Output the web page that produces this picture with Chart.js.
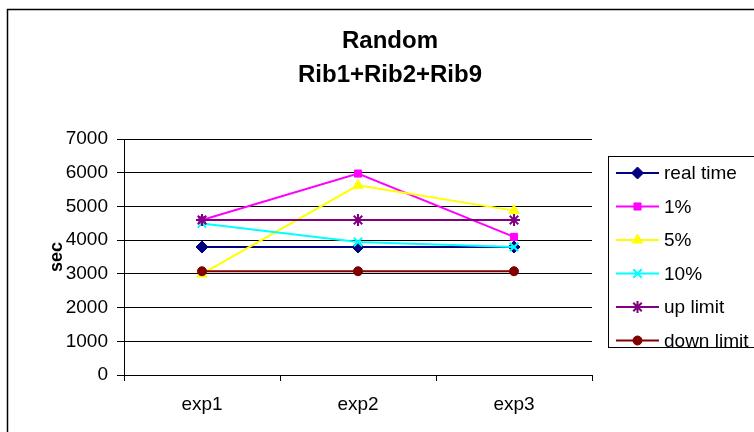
<!DOCTYPE html>
<html>
<head>
<meta charset="utf-8">
<script src="https://cdn.jsdelivr.net/npm/chart.js@4"></script>
<style>
  html, body { margin: 0; padding: 0; background: #fff; }
  #wrap { width: 754px; height: 432px; }
</style>
</head>
<body>
<div id="wrap"><canvas id="chart" width="754" height="432"></canvas></div>
<script>
// Data
const categories = ['exp1', 'exp2', 'exp3'];
const realTime = [3800, 3800, 3800];
const pct1 = [4600, 5980, 4100];
const pct5 = [3000, 5630, 4880];
const pct10 = [4500, 3950, 3800];
const upLimit = [4600, 4600, 4600];
const downLimit = [3080, 3080, 3080];
const titleLines = ['Random', 'Rib1+Rib2+Rib9'];
const yTitle = 'sec';

const FONT = '"Liberation Sans", Arial, sans-serif';

function series(label, data, color, style, radius, order) {
    return {
        label, data, order,
        borderColor: color,
        backgroundColor: color,
        pointBackgroundColor: color,
        pointBorderColor: color,
        pointStyle: style,
        pointRadius: radius,
        pointHoverRadius: radius,
        pointBorderWidth: (style === 'crossRot' || style === 'star') ? 2 : 1,
        borderWidth: 2,
        tension: 0
    };
}

// Outer frame + white background
const framePlugin = {
    id: 'frame',
    beforeDraw(chart) {
        const c = chart.ctx;
        c.save();
        c.fillStyle = '#fff';
        c.fillRect(0, 0, chart.width, chart.height);
        c.strokeStyle = '#000';
        c.lineWidth = 1.5;
        c.strokeRect(7.5, 9.5, 820, 500);
        c.restore();
    }
};

// Boxed legend with line + marker samples
const boxLegend = {
    id: 'boxLegend',
    afterDraw(chart) {
        const c = chart.ctx;
        const x0 = 608, y0 = 156, rowH = 33.5;
        c.save();
        c.strokeStyle = '#000';
        c.lineWidth = 1;
        c.strokeRect(x0 + 0.5, y0 + 0.5, 200, 191);
        c.font = '19px ' + FONT;
        c.textBaseline = 'middle';
        chart.data.datasets.forEach((ds, i) => {
            const y = y0 + 17 + i * rowH;
            c.strokeStyle = ds.borderColor;
            c.lineWidth = 2;
            c.beginPath();
            c.moveTo(616, y);
            c.lineTo(659, y);
            c.stroke();
            c.fillStyle = ds.pointBackgroundColor;
            c.strokeStyle = ds.pointBorderColor;
            c.lineWidth = ds.pointBorderWidth;
            Chart.helpers.drawPoint(c, {
                pointStyle: ds.pointStyle,
                radius: ds.pointRadius,
                rotation: 0,
                borderWidth: ds.pointBorderWidth
            }, 637.5, y);
            c.fillStyle = '#000';
            c.fillText(ds.label, 664, y + 1);
        });
        c.restore();
    }
};

const chart = new Chart(document.getElementById('chart'), {
    type: 'line',
    data: {
        labels: categories,
        datasets: [
            series('real time', realTime, '#000080', 'rectRot', 6, 5),
            series('1%', pct1, '#FF00FF', 'rect', 5, 4),
            series('5%', pct5, '#FFFF00', 'triangle', 6, 3),
            series('10%', pct10, '#00FFFF', 'crossRot', 6, 2),
            series('up limit', upLimit, '#800080', 'star', 6, 1),
            series('down limit', downLimit, '#800000', 'circle', 4.5, 0)
        ]
    },
    options: {
        responsive: false,
        animation: false,
        layout: { padding: { left: 26, right: 0, top: 0, bottom: 0 } },
        plugins: {
            legend: { display: false },
            tooltip: { enabled: false },
            title: {
                display: true,
                text: titleLines,
                color: '#000',
                font: { family: FONT, size: 24, weight: 'bold', lineHeight: 1.4 },
                padding: { top: 25, bottom: 47 }
            }
        },
        scales: {
            x: {
                offset: true,
                grid: { offset: true, drawOnChartArea: false, drawTicks: true, tickLength: 6, color: '#000' },
                border: { display: true, color: '#000' },
                ticks: { color: '#000', padding: 12, font: { family: FONT, size: 19 } },
                afterFit(s) { s.height = 57; }
            },
            y: {
                min: 0, max: 7000,
                ticks: {
                    stepSize: 1000, color: '#000', padding: 9,
                    font: { family: FONT, size: 19 },
                    callback: v => String(v)
                },
                grid: { color: '#000', tickLength: 7 },
                border: { display: true, color: '#000' },
                title: {
                    display: true, text: yTitle, color: '#000',
                    font: { family: FONT, size: 18, weight: 'bold' },
                    padding: { top: 20, bottom: 0 }
                },
                afterFit(s) { s.width = 98; }
            },
            legendSpace: {
                type: 'linear',
                position: 'right',
                display: true,
                grid: { display: false },
                border: { display: false },
                ticks: { display: false },
                afterFit(s) { s.width = 162; }
            }
        }
    },
    plugins: [framePlugin, boxLegend]
});
</script>
</body>
</html>
